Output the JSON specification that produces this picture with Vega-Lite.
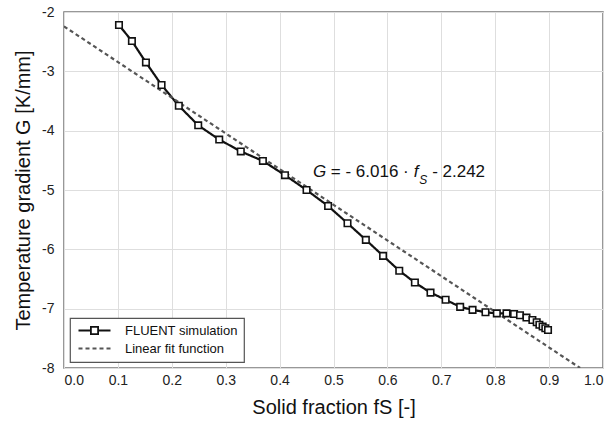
{
  "$schema": "https://vega.github.io/schema/vega-lite/v6.json",
  "width": 539,
  "height": 356,
  "autosize": "none",
  "padding": {"left": 64, "top": 12, "right": 11, "bottom": 57},
  "background": "white",
  "config": {
    "font": "Liberation Sans",
    "view": {"stroke": "#777", "strokeWidth": 1.5},
    "axis": {
      "domain": false,
      "ticks": false,
      "grid": true,
      "gridColor": "#dedede",
      "gridWidth": 1,
      "labelFont": "Liberation Sans",
      "labelFontSize": 14,
      "labelColor": "#222",
      "titleFont": "Liberation Sans",
      "titleFontSize": 20,
      "titleFontWeight": "normal",
      "titleColor": "#111"
    }
  },
  "datasets": {
    "series": [
      {"series": "FLUENT simulation", "fs": 0.102, "g": -2.22},
      {"series": "FLUENT simulation", "fs": 0.126, "g": -2.49},
      {"series": "FLUENT simulation", "fs": 0.152, "g": -2.85},
      {"series": "FLUENT simulation", "fs": 0.181, "g": -3.23},
      {"series": "FLUENT simulation", "fs": 0.213, "g": -3.58},
      {"series": "FLUENT simulation", "fs": 0.249, "g": -3.91},
      {"series": "FLUENT simulation", "fs": 0.288, "g": -4.15},
      {"series": "FLUENT simulation", "fs": 0.328, "g": -4.35},
      {"series": "FLUENT simulation", "fs": 0.369, "g": -4.51},
      {"series": "FLUENT simulation", "fs": 0.410, "g": -4.75},
      {"series": "FLUENT simulation", "fs": 0.450, "g": -5.00},
      {"series": "FLUENT simulation", "fs": 0.490, "g": -5.27},
      {"series": "FLUENT simulation", "fs": 0.526, "g": -5.56},
      {"series": "FLUENT simulation", "fs": 0.560, "g": -5.84},
      {"series": "FLUENT simulation", "fs": 0.592, "g": -6.11},
      {"series": "FLUENT simulation", "fs": 0.622, "g": -6.36},
      {"series": "FLUENT simulation", "fs": 0.651, "g": -6.56},
      {"series": "FLUENT simulation", "fs": 0.680, "g": -6.73},
      {"series": "FLUENT simulation", "fs": 0.708, "g": -6.85},
      {"series": "FLUENT simulation", "fs": 0.735, "g": -6.97},
      {"series": "FLUENT simulation", "fs": 0.758, "g": -7.02},
      {"series": "FLUENT simulation", "fs": 0.782, "g": -7.06},
      {"series": "FLUENT simulation", "fs": 0.803, "g": -7.08},
      {"series": "FLUENT simulation", "fs": 0.821, "g": -7.08},
      {"series": "FLUENT simulation", "fs": 0.835, "g": -7.09},
      {"series": "FLUENT simulation", "fs": 0.846, "g": -7.11},
      {"series": "FLUENT simulation", "fs": 0.858, "g": -7.15},
      {"series": "FLUENT simulation", "fs": 0.869, "g": -7.19},
      {"series": "FLUENT simulation", "fs": 0.877, "g": -7.23},
      {"series": "FLUENT simulation", "fs": 0.882, "g": -7.27},
      {"series": "FLUENT simulation", "fs": 0.888, "g": -7.30},
      {"series": "FLUENT simulation", "fs": 0.893, "g": -7.33},
      {"series": "FLUENT simulation", "fs": 0.898, "g": -7.36},
      {"series": "Linear fit function", "fs": 0.0, "g": -2.242},
      {"series": "Linear fit function", "fs": 0.9575, "g": -8.0}
    ]
  },
  "layer": [
    {
      "data": {"name": "series"},
      "mark": {"type": "line", "strokeWidth": 2.2, "clip": true},
      "encoding": {
        "x": {
          "field": "fs", "type": "quantitative",
          "scale": {"domain": [0, 1], "nice": false, "zero": false},
          "axis": {
            "title": "Solid fraction fS [-]",
            "values": [0, 0.1, 0.2, 0.3, 0.4, 0.5, 0.6, 0.7, 0.8, 0.9, 1.0],
            "format": ".1f",
            "labelPadding": 5,
            "titlePadding": 10
          }
        },
        "y": {
          "field": "g", "type": "quantitative",
          "scale": {"domain": [-8, -2], "nice": false, "zero": false},
          "axis": {
            "title": "Temperature gradient G [K/mm]",
            "values": [-8, -7, -6, -5, -4, -3, -2],
            "format": "d",
            "labelExpr": "replace(datum.label, '\u2212', '-')",
            "labelPadding": 10,
            "titlePadding": 8
          }
        },
        "color": {
          "field": "series", "type": "nominal",
          "scale": {"domain": ["FLUENT simulation", "Linear fit function"], "range": ["#111111", "#555555"]},
          "legend": {
            "title": null,
            "orient": "bottom-left",
            "offset": 6,
            "padding": 6,
            "strokeColor": "#555",
            "fillColor": "white",
            "cornerRadius": 0,
            "labelFont": "Liberation Sans",
            "labelFontSize": 13,
            "labelColor": "#111",
            "labelOffset": 36,
            "rowPadding": 4,
            "symbolSize": 64,
            "symbolStrokeWidth": 1.8,
            "symbolFillColor": "white",
            "encode": {
              "legend": {
                "update": {"strokeWidth": {"value": 1.2}}
              },
              "symbols": {
                "update": {
                  "shape": {"signal": "datum.value == 'FLUENT simulation' ? 'M-1,0H2.1M3.9,0H7M2.1,-0.9H3.9V0.9H2.1Z' : 'M-1,0H7'"},
                  "fill": {"value": "white"}
                }
              }
            }
          }
        },
        "strokeDash": {
          "field": "series", "type": "nominal",
          "scale": {"domain": ["FLUENT simulation", "Linear fit function"], "range": [[1, 0], [4, 3]]},
          "legend": null
        }
      }
    },
    {
      "data": {"name": "series"},
      "transform": [{"filter": "datum.series == 'FLUENT simulation'"}],
      "mark": {"type": "point", "shape": "square", "filled": true, "fill": "white", "stroke": "#111", "strokeWidth": 1.6, "size": 42, "opacity": 1},
      "encoding": {
        "x": {"field": "fs", "type": "quantitative"},
        "y": {"field": "g", "type": "quantitative"}
      }
    },
    {
      "data": {"values": [{"t": "G", "fs": 0.462, "g": -4.78}]},
      "mark": {"type": "text", "align": "left", "baseline": "alphabetic", "fontSize": 17, "fontStyle": "italic", "font": "Liberation Sans", "color": "#111"},
      "encoding": {"x": {"field": "fs", "type": "quantitative"}, "y": {"field": "g", "type": "quantitative"}, "text": {"field": "t"}}
    },
    {
      "data": {"values": [{"t": "= - 6.016 \u00b7", "fs": 0.495, "g": -4.78}]},
      "mark": {"type": "text", "align": "left", "baseline": "alphabetic", "fontSize": 17, "font": "Liberation Sans", "color": "#111"},
      "encoding": {"x": {"field": "fs", "type": "quantitative"}, "y": {"field": "g", "type": "quantitative"}, "text": {"field": "t"}}
    },
    {
      "data": {"values": [{"t": "f", "fs": 0.649, "g": -4.78}]},
      "mark": {"type": "text", "align": "left", "baseline": "alphabetic", "fontSize": 17, "fontStyle": "italic", "font": "Liberation Sans", "color": "#111"},
      "encoding": {"x": {"field": "fs", "type": "quantitative"}, "y": {"field": "g", "type": "quantitative"}, "text": {"field": "t"}}
    },
    {
      "data": {"values": [{"t": "S", "fs": 0.659, "g": -4.90}]},
      "mark": {"type": "text", "align": "left", "baseline": "alphabetic", "fontSize": 12, "fontStyle": "italic", "font": "Liberation Sans", "color": "#111"},
      "encoding": {"x": {"field": "fs", "type": "quantitative"}, "y": {"field": "g", "type": "quantitative"}, "text": {"field": "t"}}
    },
    {
      "data": {"values": [{"t": "- 2.242", "fs": 0.683, "g": -4.78}]},
      "mark": {"type": "text", "align": "left", "baseline": "alphabetic", "fontSize": 17, "font": "Liberation Sans", "color": "#111"},
      "encoding": {"x": {"field": "fs", "type": "quantitative"}, "y": {"field": "g", "type": "quantitative"}, "text": {"field": "t"}}
    }
  ]
}
